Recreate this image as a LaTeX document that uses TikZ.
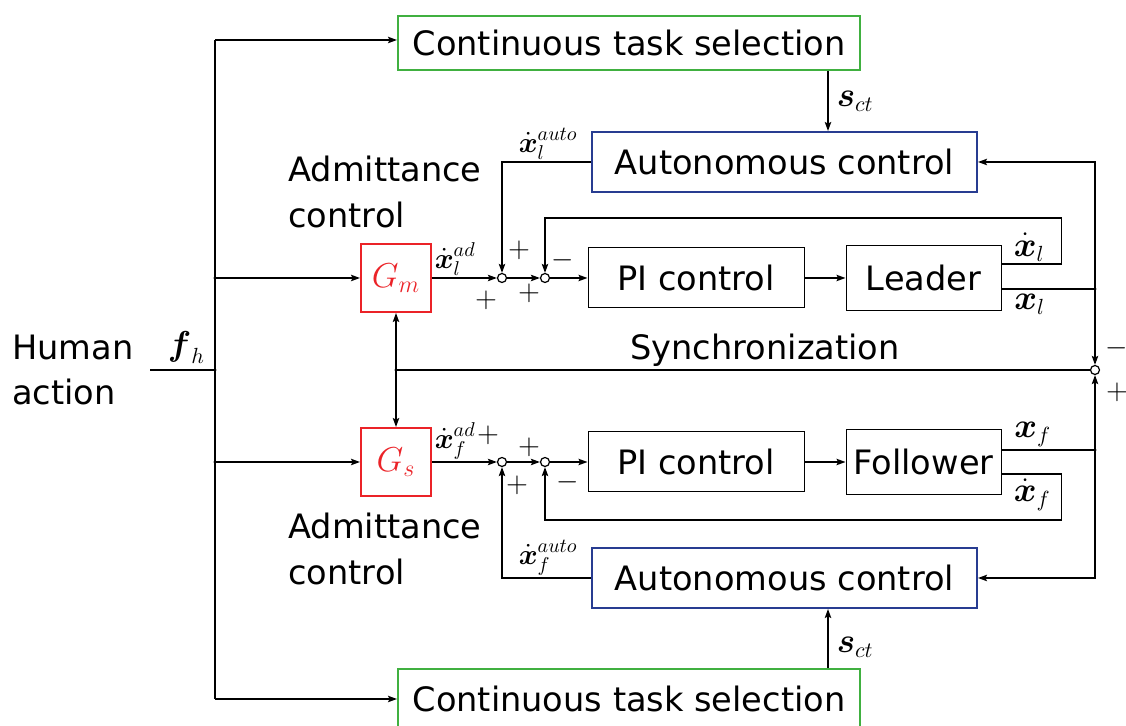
\documentclass[tikz,border=0pt]{standalone}
\usepackage{amsmath}
\usepackage{fontspec}
\setmainfont{DejaVu Sans}
\usetikzlibrary{arrows.meta, positioning, calc}
\definecolor{taskgreen}{RGB}{64,176,64}
\definecolor{autoblue}{RGB}{40,60,145}
\definecolor{admred}{RGB}{235,35,40}
\tikzset{%
  block/.style={rectangle, draw, text centered, minimum width=108pt, minimum height=30pt, line width=0.5pt},
  taskblock/.style={block, draw=taskgreen, line width=1pt, minimum width=231pt, minimum height=27pt},
  autoblock/.style={block, draw=autoblue, line width=1pt, minimum width=192.5pt, minimum height=30pt},
  admblock/.style={block, draw=admred, text=admred, line width=1pt, minimum width=35pt, minimum height=34pt, font=\fontsize{17}{20}\selectfont},
  sumcircle/.style={draw, circle, fill=white, inner sep=0pt, minimum size=4.5pt, line width=0.6pt},
  junction/.style={circle, fill, inner sep=0pt, minimum size=1.6pt},
  wire/.style={draw, line width=0.75pt},
  line/.style={wire, -{Stealth[length=4.5pt, width=3.2pt, inset=0.8pt]}},
  dline/.style={wire, {Stealth[length=4.5pt, width=3.2pt, inset=0.8pt]}-{Stealth[length=4.5pt, width=3.2pt, inset=0.8pt]}},
  sig/.style={font=\fontsize{14.5}{16}\selectfont, inner sep=1pt},
  bigsig/.style={font=\fontsize{16}{18}\selectfont, inner sep=1pt},
  sign/.style={font=\fontsize{15}{16}\selectfont, inner sep=0pt}}

\begin{document}
\begin{tikzpicture}[x=0.5pt, y=-0.5pt, font=\fontsize{16.8}{22.5}\selectfont]
    \useasboundingbox (0,0) rectangle (1126,726);
    % Task selection and autonomous control
    \node (task1) [taskblock] at (629,43) {Continuous task selection};
    \node (auto1) [autoblock] at (784.5,162) {Autonomous control};
    \node (auto2) [autoblock] at (784.5,578) {Autonomous control};
    \node (task2) [taskblock, minimum height=30pt] at (629,699) {Continuous task selection};
    % Leader side
    \node (gm) [admblock] at (396,278) {$G_m$};
    \node (s1) [sumcircle] at (502,278) {};
    \node (s2) [sumcircle] at (545,278) {};
    \node (pi1) [block] at (696,278) {PI control};
    \node (lead) [block, right=20.5pt of pi1, minimum width=77.5pt, minimum height=32.5pt] {Leader};
    % Follower side
    \node (gs) [admblock] at (396,462) {$G_s$};
    \node (s3) [sumcircle] at (502,462) {};
    \node (s4) [sumcircle] at (545,462) {};
    \node (pi2) [block] at (696,462) {PI control};
    \node (foll) [block, right=20.5pt of pi2, minimum width=77.5pt, minimum height=32.5pt] {Follower};
    % Synchronization
    \node (sync) [sumcircle] at (1095,370) {};
    \node (synclabel) at (765,350) {Synchronization};
    % Texts
    \node (human) [align=left, anchor=west, inner sep=0pt] at (12,370) {Human\\action};
    \node (adm1) [align=left, anchor=west, inner sep=0pt, font=\fontsize{16.8}{23}\selectfont] at (288,192) {Admittance\\control};
    \node (adm2) [align=left, anchor=west, inner sep=0pt, font=\fontsize{16.8}{23}\selectfont] at (288,549) {Admittance\\control};
    % Junctions
    \coordinate (hin) at (150,370);
    \coordinate (ttop) at (215,40);
    \coordinate (tbot) at (215,699);
    \node (jh) [junction] at (215,370) {};
    \node (jm) [junction] at (215,278) {};
    \node (js) [junction] at (215,462) {};
    \node (jg) [junction] at (gm |- jh) {};
    \node (jl) [junction] at (1095,289) {};
    \node (jf) [junction] at (1095,450) {};
    \coordinate (lvo) at (lead.east |- 0,264);
    \coordinate (fvo) at (foll.east |- 0,474);
    \coordinate (sct1) at ([xshift=-16.5pt]task1.south east);
    \coordinate (sct2) at ([xshift=-16.5pt]task2.north east);
    % Human action
    \draw[wire] (hin) -- (jh.center) node[midway, above, bigsig, xshift=2pt, yshift=2pt] {$\boldsymbol{f}_h$};
    \draw[wire] (ttop) -- (tbot);
    \draw[line] (ttop) -- (ttop -| task1.west);
    \draw[line] (tbot) -- (tbot -| task2.west);
    \draw[line] (jm.center) -- (gm);
    \draw[line] (js.center) -- (gs);
    \draw[dline] (gm) -- (gs);
    \draw[wire] (jg.center) -- (sync);
    % Task selection signals
    \draw[line] (sct1) -- (sct1 |- auto1.north) node[midway, right, bigsig, xshift=3pt] {$\boldsymbol{s}_{ct}$};
    \draw[line] (sct2) -- (sct2 |- auto2.south) node[pos=0.35, right, bigsig, xshift=3pt] {$\boldsymbol{s}_{ct}$};
    % Leader loop
    \draw[line] (gm) -- (s1) node[pos=0, anchor=south west, sig] {$\dot{\boldsymbol{x}}_l^{ad}$};
    \draw[line] (s1) -- (s2);
    \draw[line] (s2) -- (pi1);
    \draw[line] (pi1) -- (lead);
    \draw[line] (auto1.west) -| (s1) node[pos=0.5, anchor=south west, sig, xshift=7pt] {$\dot{\boldsymbol{x}}_l^{auto}$};
    \draw[line] (lvo) -- ++(60,0) -- ++(0,-46) -| (s2);
    \node[bigsig, anchor=south west, xshift=5pt] at (lvo) {$\dot{\boldsymbol{x}}_l$};
    \draw[wire] (lead.east |- jl) -- (jl.center) node[pos=0, anchor=north west, bigsig, xshift=5pt, yshift=-1pt] {$\boldsymbol{x}_l$};
    \draw[line] (jl.center) |- (auto1);
    \draw[line] (jl.center) -- (sync);
    % Follower loop
    \draw[line] (gs) -- (s3) node[pos=0, anchor=south west, sig] {$\dot{\boldsymbol{x}}_f^{ad}$};
    \draw[line] (s3) -- (s4);
    \draw[line] (s4) -- (pi2);
    \draw[line] (pi2) -- (foll);
    \draw[line] (auto2.west) -| (s3) node[pos=0.5, anchor=south west, sig, xshift=7pt] {$\dot{\boldsymbol{x}}_f^{auto}$};
    \draw[line] (fvo) -- ++(60,0) -- ++(0,46) -| (s4);
    \node[bigsig, anchor=north west, xshift=5pt, yshift=-1pt] at (fvo) {$\dot{\boldsymbol{x}}_f$};
    \draw[wire] (foll.east |- jf) -- (jf.center) node[pos=0, anchor=south west, bigsig, xshift=5pt] {$\boldsymbol{x}_f$};
    \draw[line] (jf.center) |- (auto2);
    \draw[line] (jf.center) -- (sync);
    % Signs
    \node[sign] at ($(s1)+(17,-28)$) {$+$};
    \node[sign] at ($(s1)+(-16,22)$) {$+$};
    \node[sign] at ($(s2)+(18,-18)$) {$-$};
    \node[sign] at ($(s2)+(-16,15)$) {$+$};
    \node[sign] at ($(s3)+(-14,-27)$) {$+$};
    \node[sign] at ($(s3)+(15,23)$) {$+$};
    \node[sign] at ($(s4)+(-16,-15)$) {$+$};
    \node[sign] at ($(s4)+(23,20)$) {$-$};
    \node[sign] at ($(sync)+(22,-22)$) {$-$};
    \node[sign] at ($(sync)+(22,22)$) {$+$};
\end{tikzpicture}
\end{document}
